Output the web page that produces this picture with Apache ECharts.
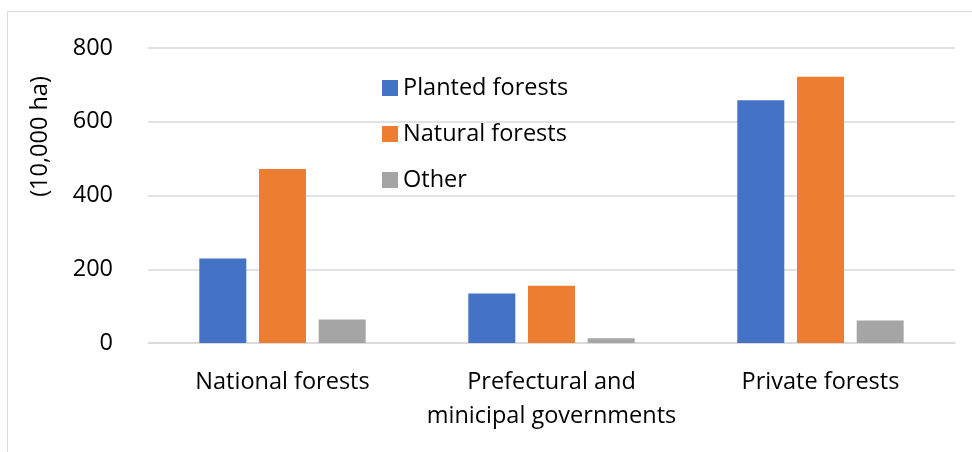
<!DOCTYPE html>
<html>
<head>
<meta charset="utf-8">
<script src="https://cdn.jsdelivr.net/npm/echarts@6/dist/echarts.min.js"></script>
<style>
  html, body { margin: 0; padding: 0; background: #fff; }
  #chart { width: 972px; height: 452px; }
</style>
</head>
<body>
<div id="chart"></div>
<script>
// Forest area by ownership (10,000 ha)
const categories = ['National forests', 'Prefectural and\nminicipal governments', 'Private forests'];
const planted = [229, 134, 658];
const natural = [472, 155, 722];
const other = [64, 13, 61];
const yTicks = [0, 200, 400, 600, 800];

const FONT = '"Open Sans", Lato, sans-serif';
const FS = 23.5;
const chart = echarts.init(document.getElementById('chart'));

chart.setOption({
  backgroundColor: '#ffffff',
  animation: false,
  textStyle: { fontFamily: FONT },
  graphic: [{
    type: 'rect',
    shape: { x: 7.5, y: 11.5, width: 1200, height: 1000 },
    style: { fill: 'none', stroke: '#d9d9d9', lineWidth: 1 },
    silent: true
  }],
  grid: { left: 148, right: 17, top: 48, bottom: 109 },
  legend: {
    orient: 'vertical',
    left: 377,
    top: 71,
    itemWidth: 16,
    itemHeight: 16,
    itemGap: 22,
    icon: 'rect',
    textStyle: { fontFamily: FONT, fontSize: FS, color: '#000', padding: [0, 0, 0, 0] },
    data: ['Planted forests', 'Natural forests', 'Other']
  },
  xAxis: {
    type: 'category',
    data: categories,
    axisLine: { lineStyle: { color: '#d9d9d9', width: 1.5 } },
    axisTick: { show: false },
    axisLabel: { color: '#000', fontSize: FS, fontFamily: FONT, margin: 22, lineHeight: 34, interval: 0 }
  },
  yAxis: {
    type: 'value',
    min: yTicks[0],
    max: yTicks[yTicks.length - 1],
    interval: 200,
    name: '(10,000 ha)',
    nameLocation: 'middle',
    nameRotate: 90,
    nameGap: 96,
    nameTextStyle: { color: '#000', fontSize: FS, fontFamily: FONT, padding: [0, 0, 0, 118] },
    axisLine: { show: false },
    axisTick: { show: false },
    splitLine: { lineStyle: { color: '#d9d9d9', width: 1.5 } },
    axisLabel: { color: '#000', fontSize: FS, fontFamily: FONT, margin: 35 }
  },
  series: [
    { name: 'Planted forests', type: 'bar', data: planted, barWidth: 47, barGap: '27%',
      itemStyle: { color: '#4472c4' } },
    { name: 'Natural forests', type: 'bar', data: natural, barWidth: 47, barGap: '27%',
      itemStyle: { color: '#ed7d31' } },
    { name: 'Other', type: 'bar', data: other, barWidth: 47, barGap: '27%',
      itemStyle: { color: '#a5a5a5' } }
  ]
});
</script>
</body>
</html>
